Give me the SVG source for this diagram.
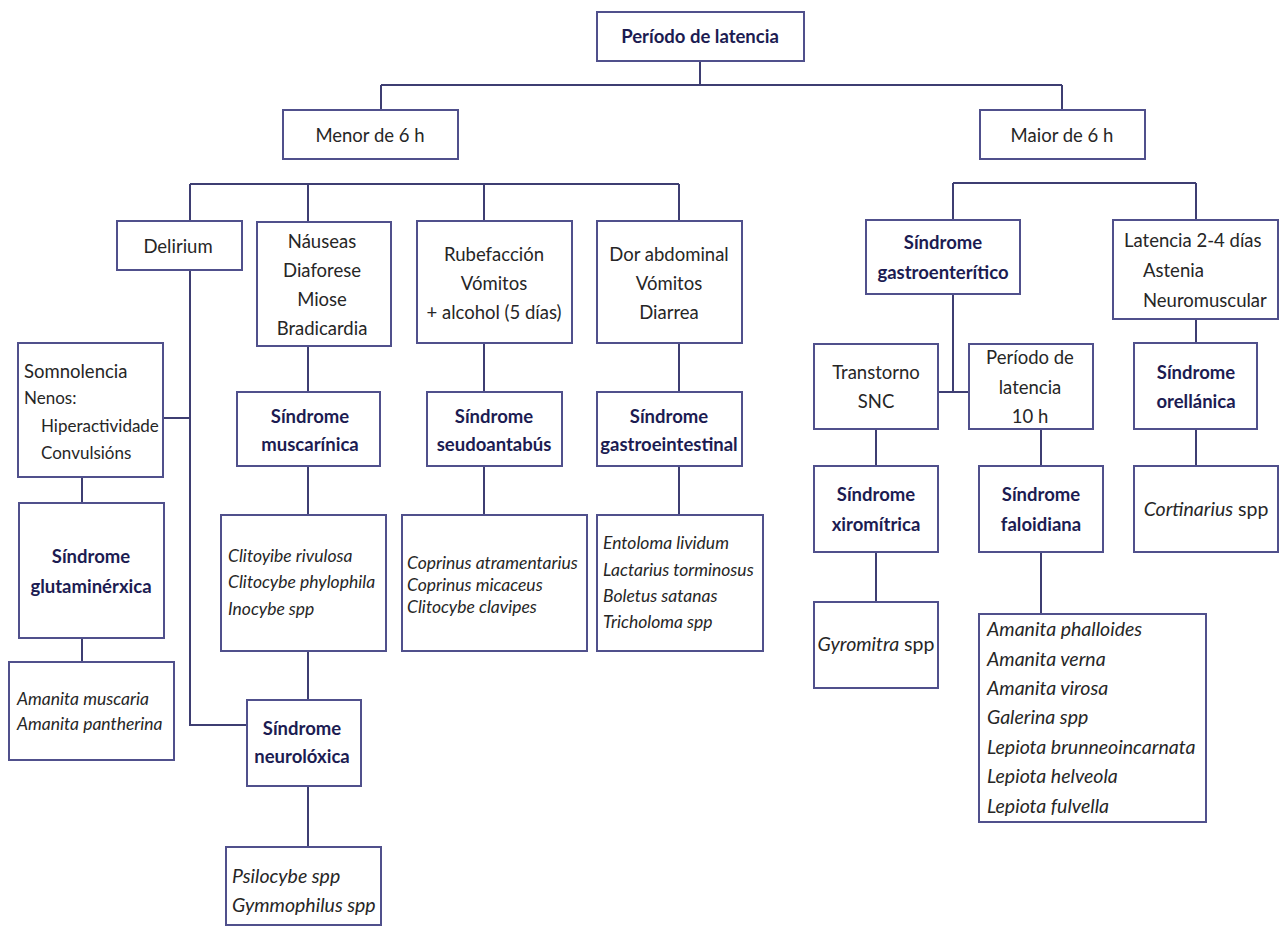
<svg xmlns="http://www.w3.org/2000/svg" width="1279" height="928" viewBox="0 0 1279 928">
<style>
.b{fill:#fff;stroke:#50508c;stroke-width:2}
.c{fill:none;stroke:#3e3e72;stroke-width:2}
text{font-family:Lato,"Open Sans","Liberation Sans",sans-serif;font-size:18.5px;fill:#262626}
.t{font-weight:bold;fill:#1c1c52;text-anchor:middle}
.m{text-anchor:middle}
.i{font-style:italic;font-size:17.5px}
.l{font-size:19.5px}
.s{font-size:17px}
</style>
<rect width="1279" height="928" fill="#fff"/>
<g id="connectors">
<path class="c" d="M700,61V85M381,85H1062M381,85V110M1062,85V110"/>
<path class="c" d="M190,184H679M190,184V221M308,184V222M484,184V221M679,184V221"/>
<path class="c" d="M953,183H1196M953,183V220M1196,183V220"/>
<path class="c" d="M190,270V725H247M163,418H190"/>
<path class="c" d="M82,477V503M82,638V662"/>
<path class="c" d="M308,346V392M308,466V515M308,651V700M308,786V847"/>
<path class="c" d="M484,343V392M484,466V515M679,343V392M679,466V515"/>
<path class="c" d="M953,294V392M938,392H969"/>
<path class="c" d="M876,429V466M876,552V602M1041,429V466M1041,552V614M1196,319V343M1196,429V466"/>
</g>
<g id="n-periodo"><rect class="b" x="597" y="12" width="207" height="49"/><text class="t" x="700" y="43">Período de latencia</text></g>
<g id="n-menor"><rect class="b" x="283" y="110" width="175" height="49"/><text class="m" x="370" y="142">Menor de 6 h</text></g>
<g id="n-maior"><rect class="b" x="980" y="110" width="165" height="49"/><text class="m" x="1062" y="142">Maior de 6 h</text></g>
<g id="n-delirium"><rect class="b" x="117" y="221" width="125" height="49"/><text class="m" x="178" y="253">Delirium</text></g>
<g id="n-nauseas"><rect class="b" x="257" y="222" width="134" height="124"/>
<text class="m" x="322" y="248">Náuseas</text><text class="m" x="322" y="277">Diaforese</text><text class="m" x="322" y="306">Miose</text><text class="m" x="322" y="335">Bradicardia</text></g>
<g id="n-rubefaccion"><rect class="b" x="417" y="221" width="155" height="122"/>
<text class="m" x="494" y="261">Rubefacción</text><text class="m" x="494" y="290">Vómitos</text><text class="m" x="494" y="319">+ alcohol (5 días)</text></g>
<g id="n-dor"><rect class="b" x="597" y="221" width="145" height="122"/>
<text class="m" x="669" y="261">Dor abdominal</text><text class="m" x="669" y="290">Vómitos</text><text class="m" x="669" y="319">Diarrea</text></g>
<g id="n-somnolencia"><rect class="b" x="18" y="343" width="145" height="134"/>
<text x="24" y="378">Somnolencia</text><text class="s" x="24" y="404">Nenos:</text><text class="s" x="41" y="432">Hiperactividade</text><text class="s" x="41" y="459">Convulsións</text></g>
<g id="n-muscarinica"><rect class="b" x="237" y="392" width="143" height="74"/><text class="t" x="310" y="423">Síndrome</text><text class="t" x="310" y="451">muscarínica</text></g>
<g id="n-seudoantabus"><rect class="b" x="427" y="392" width="135" height="74"/><text class="t" x="494" y="423">Síndrome</text><text class="t" x="494" y="451">seudoantabús</text></g>
<g id="n-gastroeintestinal"><rect class="b" x="597" y="392" width="145" height="74"/><text class="t" x="669" y="423">Síndrome</text><text class="t" x="669" y="451">gastroeintestinal</text></g>
<g id="n-clitoyibe"><rect class="b" x="221" y="515" width="165" height="136"/>
<text class="i" x="228" y="562">Clitoyibe rivulosa</text><text class="i" x="228" y="588">Clitocybe phylophila</text><text class="i" x="228" y="615">Inocybe spp</text></g>
<g id="n-coprinus"><rect class="b" x="402" y="515" width="185" height="136"/>
<text class="i" x="407" y="569">Coprinus atramentarius</text><text class="i" x="407" y="591">Coprinus micaceus</text><text class="i" x="407" y="613">Clitocybe clavipes</text></g>
<g id="n-entoloma"><rect class="b" x="597" y="515" width="166" height="136"/>
<text class="i" x="603" y="549">Entoloma lividum</text><text class="i" x="603" y="576">Lactarius torminosus</text><text class="i" x="603" y="602">Boletus satanas</text><text class="i" x="603" y="628">Tricholoma spp</text></g>
<g id="n-glutaminerxica"><rect class="b" x="19" y="503" width="145" height="135"/><text class="t" x="91" y="563">Síndrome</text><text class="t" x="91" y="593">glutaminérxica</text></g>
<g id="n-amanita-muscaria"><rect class="b" x="9" y="662" width="165" height="98"/>
<text class="i" x="17" y="705">Amanita muscaria</text><text class="i" x="17" y="730">Amanita pantherina</text></g>
<g id="n-neuroloxica"><rect class="b" x="247" y="700" width="114" height="86"/><text class="t" x="302" y="735">Síndrome</text><text class="t" x="302" y="763">neurolóxica</text></g>
<g id="n-psilocybe"><rect class="b" x="226" y="847" width="155" height="78"/>
<text class="i l" x="232" y="883">Psilocybe spp</text><text class="i l" x="232" y="912">Gymmophilus spp</text></g>
<g id="n-gastroenteritico"><rect class="b" x="866" y="220" width="154" height="74"/><text class="t" x="943" y="249">Síndrome</text><text class="t" x="943" y="279">gastroenterítico</text></g>
<g id="n-latencia24"><rect class="b" x="1113" y="220" width="165" height="99"/>
<text x="1124" y="247">Latencia 2-4 días</text><text x="1143" y="277">Astenia</text><text x="1143" y="307">Neuromuscular</text></g>
<g id="n-transtorno"><rect class="b" x="814" y="344" width="124" height="85"/><text class="m" x="876" y="379">Transtorno</text><text class="m" x="876" y="408">SNC</text></g>
<g id="n-periodo10"><rect class="b" x="969" y="344" width="124" height="85"/>
<text class="m" x="1030" y="364">Período de</text><text class="m" x="1030" y="394">latencia</text><text class="m" x="1030" y="423">10 h</text></g>
<g id="n-orellanica"><rect class="b" x="1134" y="343" width="123" height="86"/><text class="t" x="1196" y="379">Síndrome</text><text class="t" x="1196" y="408">orellánica</text></g>
<g id="n-xiromitrica"><rect class="b" x="814" y="466" width="124" height="86"/><text class="t" x="876" y="501">Síndrome</text><text class="t" x="876" y="531">xiromítrica</text></g>
<g id="n-faloidiana"><rect class="b" x="979" y="466" width="124" height="86"/><text class="t" x="1041" y="501">Síndrome</text><text class="t" x="1041" y="531">faloidiana</text></g>
<g id="n-cortinarius"><rect class="b" x="1134" y="466" width="144" height="86"/><text class="m l" x="1206" y="516"><tspan font-style="italic">Cortinarius</tspan> spp</text></g>
<g id="n-gyromitra"><rect class="b" x="814" y="602" width="124" height="86"/><text class="m l" x="876" y="651"><tspan font-style="italic">Gyromitra</tspan> spp</text></g>
<g id="n-faloidiana-list"><rect class="b" x="979" y="614" width="227" height="208"/>
<text class="i l" x="987" y="636">Amanita phalloides</text><text class="i l" x="987" y="666">Amanita verna</text><text class="i l" x="987" y="695">Amanita virosa</text><text class="i l" x="987" y="724">Galerina spp</text><text class="i l" x="987" y="754">Lepiota brunneoincarnata</text><text class="i l" x="987" y="783">Lepiota helveola</text><text class="i l" x="987" y="813">Lepiota fulvella</text></g>
</svg>
